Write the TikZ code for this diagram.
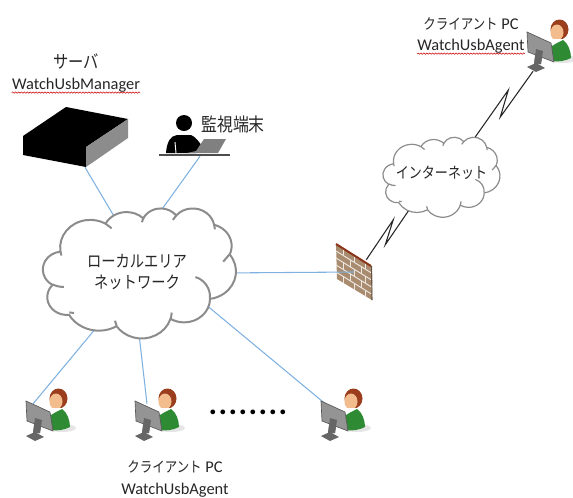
\documentclass[tikz,border=0pt]{standalone}
\usepackage{fontspec}
\setmainfont{Carlito}
\newfontfamily\cjk[FakeStretch=0.85]{Noto Sans CJK JP}
\usetikzlibrary{shapes.geometric,decorations.pathmorphing}

\definecolor{linkblue}{HTML}{7FB2E0}
\definecolor{brick}{HTML}{A98C70}
\definecolor{skin}{HTML}{F2BC8C}
\definecolor{hair}{HTML}{9A3E1E}
\definecolor{shirt}{HTML}{2E8B34}

% outline of the cloud, 4320 units wide and high
\newcommand{\cloudoutline}{
  (390,1437) arc[x radius=675.3, y radius=919, start angle=-187.75, end angle=-59.65]
  arc[x radius=533.3, y radius=726.7, start angle=-151.98, end angle=-45.50]
  arc[x radius=436.5, y radius=594.5, start angle=-153.46, end angle=-37.35]
  arc[x radius=485.7, y radius=659.5, start angle=-139.76, end angle=-10.19]
  arc[x radius=533.3, y radius=727.3, start angle=-74.80, end angle=23.26]
  arc[x radius=677.5, y radius=922, start angle=-37.53, end angle=81.87]
  arc[x radius=578.5, y radius=786.7, start angle=0.46, end angle=122.0]
  arc[x radius=675.2, y radius=921.5, start angle=16.90, end angle=146.16]
  arc[x radius=772, y radius=1054.3, start angle=59.09, end angle=150.08]
  arc[x radius=436, y radius=591.8, start angle=-276.71, end angle=-136.97]
  arc[x radius=434.5, y radius=594.5, start angle=-239.79, end angle=-95.86]
  -- cycle
}
\newcommand{\cloudcurls}{
  (469.3,2617.7) arc[x radius=434.5, y radius=594.5, start angle=85.54, end angle=120.21]
  (692.8,3489.9) -- (589,3470)
  (1647.8,3909) to[bend right=10] (1611,3745)
  (2882.7,3475.1) -- (2858,3722)
  (3412.9,2295.4) .. controls (3620,2380) and (3760,2700) .. (3737,3002)
  (4179.8,1535.4) -- (4035,1784)
  (3832.4,542.6) -- (3849,708)
  (2907.8,395.2) -- (2992,233)
  (2214.1,472) -- (2260,289)
  (1400,519.2) -- (1537,675)
  (412.7,1578.9) -- (390,1437)
}

\tikzset{
  spot/.style={rectangle, inner sep=0pt, draw=none},
  blob/.style={ellipse, inner sep=0pt, draw=none},
  link/.style={linkblue, line width=0.8pt},
  wan/.style={black!85, line width=0.8pt, line join=miter},
  cloudline/.style={draw=black!45, fill=white, line width=#1},
  caption/.style={align=center, inner sep=0pt, text=black!85, font=\fontsize{12.3}{15.8}\selectfont},
  spell/.style={draw=red!80!black, line width=0.4pt, decorate, decoration={snake, amplitude=0.5pt, segment length=2.2pt}},
  clientpc/.pic={
    \begin{scope}[shift={(-12,-21)}]
      \fill [black!10] (36,27) ellipse [x radius=14, y radius=4];
      \fill [hair] (32.5,-2.5) ellipse [x radius=9, y radius=10];
      \fill [skin] (30,0.5) ellipse [x radius=6.5, y radius=8];
      \fill [white] (24,7) -- (35,7) -- (35,14) -- (24,14) -- cycle;
      \fill [shirt] (30,11) -- (36,8) .. controls (41,11) and (44,19) .. (44,26) .. controls (38,29) and (32,30) .. (25,29) -- (25,14) -- cycle;
      \fill [black!60] (0,35) -- (9,31) -- (18,36) -- (9,40) -- cycle;
      \fill [black!55] (9,17) -- (16,17) -- (14,32) -- (7,32) -- cycle;
      \fill [black!42, draw=black!65, line width=0.5pt] (0,0) -- (24,11) -- (27,30) -- (1,20) -- cycle;
      \fill [black!60] (9,17) -- (16,19) -- (14,32) -- (7,32) -- cycle;
    \end{scope}
  }
}

\begin{document}
\begin{tikzpicture}[x=0.75pt, y=-0.75pt]
  \useasboundingbox (0,0) rectangle (573,497);

  \node (server) [spot, minimum width=105, minimum height=43.5] at (85,138) {};
  \node (operator) [spot, minimum width=50, minimum height=24] at (200,140) {};
  \node (fire) [spot, minimum width=18, minimum height=18] at (354,272) {};
  \node (lan) [blob, minimum width=120, minimum height=75] at (139.5,273) {};
  \node (inet) [blob, minimum width=67.5, minimum height=42] at (441.5,177) {};
  \node (client1) [spot, minimum width=21, minimum height=27] at (38,422) {};
  \node (client2) [spot, minimum width=21, minimum height=27] at (147,422) {};
  \node (client3) [spot, minimum width=21, minimum height=27] at (333,422) {};
  \node (client4) [spot, minimum width=21, minimum height=27] at (539,53) {};

  % server box
  \fill [black] (23,136) -- (66,107) -- (128,119) -- (86,147) -- (86,167) -- (23,155) -- cycle;
  \fill [black!45] (86,147) -- (128,119) -- (128,138) -- (86,167) -- cycle;

  % operator at the desk
  \fill [black] (184,123) circle [radius=8];
  \fill [black] (166,153) .. controls (167,142) and (170,136) .. (177,135) -- (191,135) .. controls (196,137) and (199,142) .. (202,146) -- (196,153) -- cycle;
  \draw [white, line width=0.7pt] (175,142) -- (176,153);
  \fill [black!50] (204,139) -- (226,139) -- (218,153) -- (187,153) -- (196,151) -- cycle;
  \draw [black!70, line width=1.5pt] (159,155) -- (230,155);

  % firewall
  \fill [brick] (336,244) -- (371,266) -- (372,300) -- (337,279) -- cycle;
  \foreach \row in {1,...,4}
    \draw [white!80!brick, line width=0.7pt] (336,244+7*\row) -- (371.5,266+7*\row);
  \foreach \row/\first in {0/7, 1/14, 2/7, 3/14, 4/7}
    \foreach \col in {0,1,2}
      \draw [white!80!brick, line width=0.7pt] (336+\first+11*\col,244+7*\row+0.63*\first+6.9*\col) -- ++(0,7);
  \draw [black!60!red!60!brown, line width=1.5pt] (336,244) -- (371,266);
  \draw [brick!60!black, line width=0.8pt] (371.5,266) -- (372,300);

  % connectors
  \draw [link] (server.south) -- (lan.113);
  \draw [link] (operator.south) -- (lan.76);
  \draw [link] (client1.105) -- (lan.232.6);
  \draw [link] (client2.north) -- (lan.268);
  \draw [link] (client3.113) -- (lan.335.7);
  \draw [link] (lan.east) -- (fire.center);
  \draw [wan] (fire.north east) -- ++(27,-40) -- ++(-8,25) -- (inet.222.5);
  \draw [wan] (inet.47.3) -- ++(44,-62.5) -- ++(-8,27) -- (client4.252);

  % clouds
  \begin{scope}[shift={(43,208)}, x=0.0335pt, y=-0.02257pt]
    \path [cloudline=1.5pt] \cloudoutline;
    \draw [black!45, line width=1.5pt] \cloudcurls;
  \end{scope}
  \begin{scope}[shift={(383,137)}, x=0.0203pt, y=-0.01389pt]
    \path [cloudline=0.9pt] \cloudoutline;
    \draw [black!45, line width=0.9pt] \cloudcurls;
  \end{scope}

  % clients
  \foreach \name in {client1,client2,client3,client4}
    \pic at (\name) {clientpc};

  % labels
  \node (serverlabel) [caption] at (76,73) {{\cjk\fontsize{13.5}{15.8}\selectfont サーバ}\\WatchUsbManager};
  \node (operatorlabel) [caption] at (233,124) {\cjk\fontsize{14}{16}\selectfont 監視端末};
  \node (lanlabel) [caption] at (137,272) {\cjk\fontsize{12.6}{15.5}\selectfont ローカルエリア\\\cjk\fontsize{12.6}{15.5}\selectfont ネットワーク};
  \node (inetlabel) [caption] at (441.5,173) {\cjk\fontsize{11.5}{14}\selectfont インターネット};
  \node (toplabel) [caption] at (471,35.5) {{\cjk\fontsize{11}{15.8}\selectfont クライアント} PC\\WatchUsbAgent};
  \node (bottomlabel) [caption] at (175,479) {{\cjk\fontsize{11}{15.8}\selectfont クライアント} PC\\WatchUsbAgent};
  \node (dots) [anchor=base, inner sep=0pt, font=\fontsize{24}{24}\selectfont\bfseries\addfontfeature{LetterSpace=4.6}] at (248,414) {........};

  % spelling marks
  \draw [spell] (serverlabel.south west) -- (serverlabel.south east);
  \draw [spell] (toplabel.south west) -- (toplabel.south east);
\end{tikzpicture}
\end{document}
